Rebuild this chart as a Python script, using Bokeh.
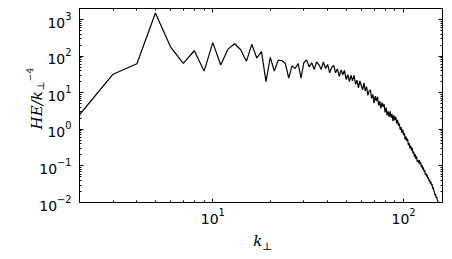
import numpy as np
from bokeh.plotting import figure
from bokeh.models import FixedTicker, LogAxis, Label, Range1d, CustomJSTickFormatter
from bokeh.embed import file_html
from bokeh.resources import INLINE

# k_perp = 2 .. 160
k_perp = list(range(2, 161))

he_low = [2.5, 32, 62, 1500, 180, 63, 140, 39, 233, 57, 155, 218, 149, 72, 210,
          89, 132, 20, 93, 39, 77, 76, 63, 25, 54, 46, 63, 25, 66]
he_mid = [79, 51, 66, 43, 69, 58, 43, 69, 46, 59,
          35, 49, 56, 35, 45, 28, 42, 31, 41, 23,
          31, 20, 30, 21, 30, 17, 22, 13.5, 21, 16,
          12, 18.6, 11.2, 14.5, 8.5, 11, 12, 7.1, 8.9, 5.2,
          8.1, 5.9, 7.8, 4.5, 5.9, 3.7, 5.4, 4.1, 4.9, 2.9,
          3.9, 2.4, 3.1, 2.2, 3.1, 2.1, 2.6, 1.66, 2.4, 1.78,
          2.2, 1.45, 1.82, 1.26]
he_high = [1.45, 0.97, 1.15, 0.81, 0.98, 0.69, 0.79, 0.52, 0.63, 0.48,
           0.55, 0.37, 0.42, 0.30, 0.36, 0.26, 0.31, 0.22, 0.245, 0.178,
           0.209, 0.155, 0.182, 0.129, 0.141, 0.12, 0.145, 0.11, 0.125, 0.092,
           0.105, 0.08, 0.092, 0.071, 0.077, 0.058, 0.064, 0.051, 0.058, 0.045,
           0.049, 0.038, 0.042, 0.033, 0.037, 0.03, 0.032, 0.024, 0.026, 0.021,
           0.02, 0.016, 0.017, 0.0135, 0.0145, 0.0118, 0.0115, 0.0095, 0.0098, 0.0078,
           0.0083, 0.0068, 0.0074, 0.006, 0.0065, 0.0054]
he_ratio = he_low + he_mid + he_high

x_major = [10, 100]
x_minor = [2, 3, 4, 5, 6, 7, 8, 9, 20, 30, 40, 50, 60, 70, 80, 90]
y_major = [1e-2, 1e-1, 1e0, 1e1, 1e2, 1e3]
y_minor = [m * 10.0 ** e for e in range(-2, 4) for m in range(2, 10)]

X0, X1 = 2, 160
Y0, Y1 = 0.01, 2000
W, H = 450, 257
BL, BR, BT, BB = 68, 8, 8, 50

p = figure(width=W, height=H, x_axis_type="log", y_axis_type="log",
           x_range=Range1d(X0, X1), y_range=Range1d(Y0, Y1),
           output_backend="svg", toolbar_location=None,
           min_border_left=BL, min_border_right=BR, min_border_top=BT, min_border_bottom=BB,
           background_fill_color="white", border_fill_color="white")
p.outline_line_color = "black"
p.outline_line_width = 1
p.xgrid.visible = False
p.ygrid.visible = False

p.line(k_perp, he_ratio, line_color="black", line_width=1.2)

tx = FixedTicker(ticks=x_major, minor_ticks=x_minor)
ty = FixedTicker(ticks=y_major, minor_ticks=y_minor)

def style(ax, labels=True):
    ax.major_tick_in = 4
    ax.major_tick_out = 0
    ax.minor_tick_in = 2
    ax.minor_tick_out = 0
    ax.axis_line_color = "black"
    ax.major_tick_line_color = "black"
    ax.minor_tick_line_color = "black"
    ax.major_label_text_font = "DejaVu Sans"
    ax.major_label_text_color = "black"
    ax.major_label_text_font_size = "14px"
    if not labels:
        ax.formatter = CustomJSTickFormatter(code="return ''")
        ax.major_label_text_font_size = "0px"
        ax.major_label_standoff = 0

p.xaxis[0].ticker = tx
p.yaxis[0].ticker = ty
style(p.xaxis[0])
style(p.yaxis[0])
p.xaxis[0].major_label_standoff = 5
p.yaxis[0].major_label_standoff = 8

top = LogAxis(ticker=tx)
style(top, labels=False)
p.add_layout(top, "above")
right = LogAxis(ticker=ty)
style(right, labels=False)
p.add_layout(right, "right")

# canvas pixel -> data coordinate helpers (for axis-title placement outside the frame)
fw = W - BL - BR
fh = H - BT - BB
def px2x(px):
    return 10 ** (np.log10(X0) + (px - BL) / fw * np.log10(X1 / X0))
def py2y(py):
    return 10 ** (np.log10(Y0) + (H - BB - py) / fh * np.log10(Y1 / Y0))

serif = "DejaVu Serif"
def lab(side, px, py, text, size, italic=False, angle=0.0):
    p.add_layout(Label(x=px2x(px), y=py2y(py), text=text, angle=angle,
                       text_font=serif, text_font_style="italic" if italic else "normal",
                       text_font_size=size, text_align="left", text_baseline="alphabetic",
                       text_color="black"), side)

# y-axis title  HE/k_perp^{-4}
lab("left", 24, 132, "HE/k", "15px", italic=True, angle=np.pi / 2)
lab("left", 27.5, 92, "⊥", "10px", angle=np.pi / 2)
lab("left", 16.5, 82.5, "−4", "9px", angle=np.pi / 2)
# x-axis title  k_perp
lab("below", 247, 247, "k", "15px", italic=True)
lab("below", 256, 252, "⊥", "11px")

open("out.html", "w").write(file_html(p, INLINE))
